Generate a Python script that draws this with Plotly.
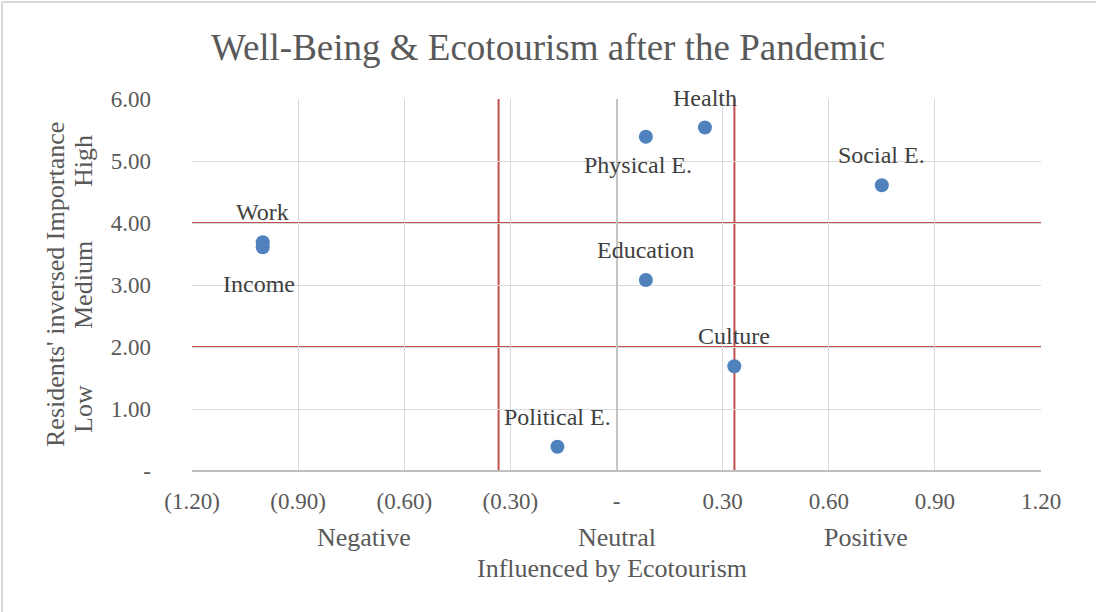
import plotly.graph_objects as go

# Well-being dimensions: influence of ecotourism (x) vs residents' inversed importance (y)
labels = ["Work", "Income", "Physical E.", "Health", "Social E.",
          "Education", "Culture", "Political E."]
influence = [-1.0, -1.0, 0.083, 0.25, 0.75, 0.083, 0.333, -0.167]
importance = [3.69, 3.61, 5.39, 5.54, 4.61, 3.08, 1.69, 0.39]

# Quadrant thresholds
x_cuts = [-1 / 3, 1 / 3]
y_cuts = [2, 4]

x_ticks = [-1.2, -0.9, -0.6, -0.3, 0, 0.3, 0.6, 0.9, 1.2]
x_ticktext = ["(1.20)", "(0.90)", "(0.60)", "(0.30)", "-", "0.30", "0.60", "0.90", "1.20"]
y_ticks = [0, 1, 2, 3, 4, 5, 6]
y_ticktext = ["-", "1.00", "2.00", "3.00", "4.00", "5.00", "6.00"]

band_labels = ["Low", "Medium", "High"]
band_centers = [1, 3, 5]
side_labels = ["Negative", "Neutral", "Positive"]
side_centers = [-0.715, 0, 0.705]

FONT = "Liberation Serif"
GREY = "#595959"
RED = "#c0504d"

# pixel offsets of each data label from its marker (default: above)
label_offset = {
    "Income": (-4, -37),
    "Physical E.": (-8, -28),
}

fig = go.Figure()
fig.add_trace(go.Scatter(
    x=influence, y=importance, mode="markers",
    marker=dict(color="#4f81bd", size=14),
    cliponaxis=False, showlegend=False, hoverinfo="skip",
))

shapes = []
for xc in x_cuts:
    shapes.append(dict(type="line", xref="x", yref="y", x0=xc, x1=xc, y0=0, y1=6,
                       line=dict(color=RED, width=2), layer="below"))
for yc in y_cuts:
    shapes.append(dict(type="line", xref="x", yref="y", x0=-1.2, x1=1.2, y0=yc, y1=yc,
                       line=dict(color=RED, width=2), layer="below"))
# chart frame (top and left edges)
shapes.append(dict(type="line", xref="paper", yref="paper",
                   x0=-190 / 849, x1=1.2, y0=1 + 97 / 372, y1=1 + 97 / 372,
                   line=dict(color="#d9d9d9", width=2)))
shapes.append(dict(type="line", xref="paper", yref="paper",
                   x0=-190 / 849, x1=-190 / 849, y0=-0.5, y1=1 + 97 / 372,
                   line=dict(color="#d9d9d9", width=2)))

annotations = []
for name, xv, yv in zip(labels, influence, importance):
    dx, dy = label_offset.get(name, (0, 30))
    annotations.append(dict(text=name, x=xv, y=yv, xref="x", yref="y",
                            xshift=dx, yshift=dy, xanchor="center", yanchor="middle",
                            showarrow=False,
                            font=dict(family=FONT, size=24, color="#404040")))
annotations.append(dict(text="Residents' inversed Importance", xref="paper", yref="paper",
                        x=0, y=0.5, xshift=-137, xanchor="center", yanchor="middle",
                        textangle=-90, showarrow=False,
                        font=dict(family=FONT, size=26, color=GREY)))
for txt, yc in zip(band_labels, band_centers):
    annotations.append(dict(text=txt, xref="paper", yref="y", x=0, y=yc, xshift=-109,
                            xanchor="center", yanchor="middle",
                            textangle=-90, showarrow=False,
                            font=dict(family=FONT, size=26, color=GREY)))
for txt, xc in zip(side_labels, side_centers):
    annotations.append(dict(text=txt, xref="x", yref="paper", x=xc, y=0, yshift=-66,
                            xanchor="center", yanchor="middle",
                            showarrow=False, font=dict(family=FONT, size=26, color=GREY)))
annotations.append(dict(text="Influenced by Ecotourism", xref="paper", yref="paper",
                        x=0.4947, y=0, yshift=-97, xanchor="center", yanchor="middle",
                        showarrow=False, font=dict(family=FONT, size=26, color=GREY)))

fig.update_layout(
    width=1096, height=612,
    margin=dict(l=192, r=55, t=99, b=141),
    paper_bgcolor="white", plot_bgcolor="white",
    title=dict(text="Well-Being & Ecotourism after the Pandemic",
               x=0.5, xanchor="center", y=1 - 47 / 612, yanchor="middle", yref="container",
               font=dict(family=FONT, size=37, color=GREY)),
    xaxis=dict(range=[-1.2, 1.2], tickvals=x_ticks, ticktext=x_ticktext,
               showgrid=True, gridcolor="#d9d9d9", gridwidth=1.3,
               zeroline=True, zerolinecolor="#c4c4c4", zerolinewidth=1.5,
               showline=False, ticks="", ticklabelstandoff=14,
               tickfont=dict(family=FONT, size=23, color=GREY)),
    yaxis=dict(range=[0, 6], tickvals=y_ticks, ticktext=y_ticktext,
               showgrid=True, gridcolor="#d9d9d9", gridwidth=1.3,
               zeroline=True, zerolinecolor="#bfbfbf", zerolinewidth=2,
               showline=False, ticks="", ticklabelstandoff=40,
               tickfont=dict(family=FONT, size=23, color=GREY)),
    shapes=shapes,
    annotations=annotations,
)

fig.write_html("out.html")
